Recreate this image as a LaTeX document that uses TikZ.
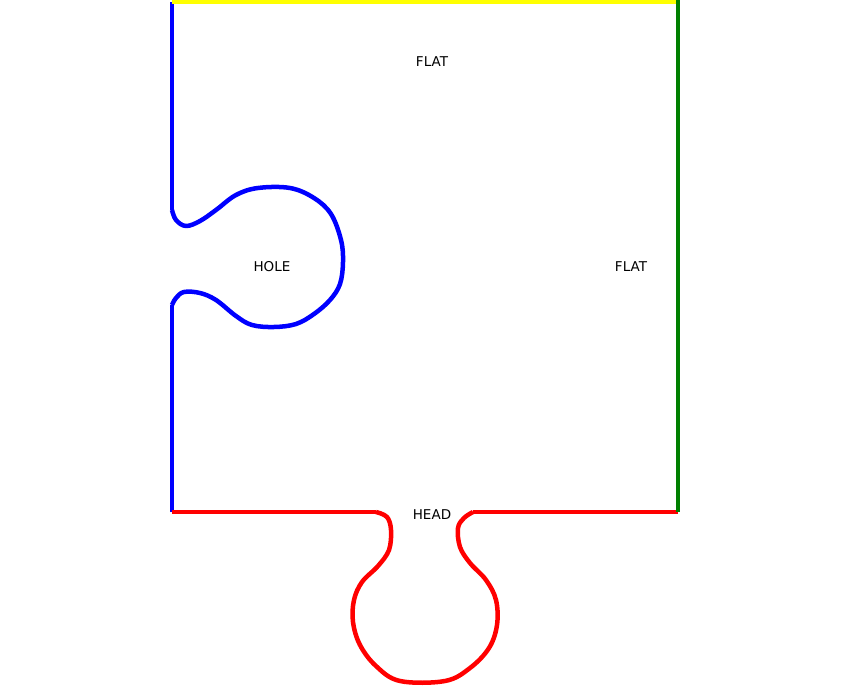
\documentclass[tikz,border=0pt]{standalone}
\usepackage{fontspec}
\setmainfont{DejaVu Sans}
\definecolor{edgeblue}{RGB}{0,0,255}
\definecolor{edgered}{RGB}{255,0,0}
\definecolor{edgeyellow}{RGB}{255,255,0}
\definecolor{edgegreen}{RGB}{0,128,0}

\begin{document}
\begin{tikzpicture}[x=1pt, y=-1pt]

  % Styles for the four piece edges and their labels
  \tikzset{
    edge/.style={line width=4.5pt, line join=round},
    edgelabel/.style={font=\fontsize{13.5}{16}\selectfont, inner sep=0pt}
  }

  \useasboundingbox (0,0) rectangle (855,690);

  % 1. Corners of the piece
  \coordinate (TL) at (172,2);
  \coordinate (TR) at (678,2);
  \coordinate (BL) at (172,512);
  \coordinate (BR) at (678,512);

  % 2. Neck ends of the hole (left side) and of the head (bottom side)
  \coordinate (H1) at (172,210);
  \coordinate (H2) at (172,305);
  \coordinate (K1) at (376,512);
  \coordinate (K2) at (473,512);

  % --- LEFT EDGE: HOLE ---
  \draw[edge, edgeblue] (TL) -- (H1);
  \draw[edge, edgeblue] plot[smooth, tension=0.6] coordinates {
    (H1) (176,220) (186,226) (200,221) (216,210) (236,195) (258,188)
    (290,188) (314,198) (331,214) (341,240) (343,262) (340,284)
    (330,300) (314,314) (296,324) (274,327) (252,325) (236,316)
    (216,300) (200,293) (184,292) (176,298) (H2)};
  \draw[edge, edgeblue] (H2) -- (BL);

  % --- BOTTOM EDGE: HEAD ---
  \draw[edge, edgered] (BL) -- (K1);
  \draw[edge, edgered] plot[smooth, tension=0.6] coordinates {
    (K1) (387,517) (391,530) (389,550) (378,566) (362,582) (354,600)
    (353,622) (360,645) (376,666) (400,681) (445,681) (470,668)
    (489,648) (497,625) (496,600) (486,580) (470,563) (460,547)
    (458,528) (464,518) (K2)};
  \draw[edge, edgered] (K2) -- (BR);

  % --- TOP AND RIGHT EDGES: FLAT ---
  \draw[edge, edgeyellow] (TL) -- (TR);
  \draw[edge, edgegreen] (678,0) -- (BR);

  % --- LABELS ---
  \node[edgelabel] (flattop) at (432,62) {FLAT};
  \node[edgelabel] (flatright) at (631,267) {FLAT};
  \node[edgelabel] (hole) at (272,267) {HOLE};
  \node[edgelabel] (head) at (432,515) {HEAD};

\end{tikzpicture}
\end{document}
